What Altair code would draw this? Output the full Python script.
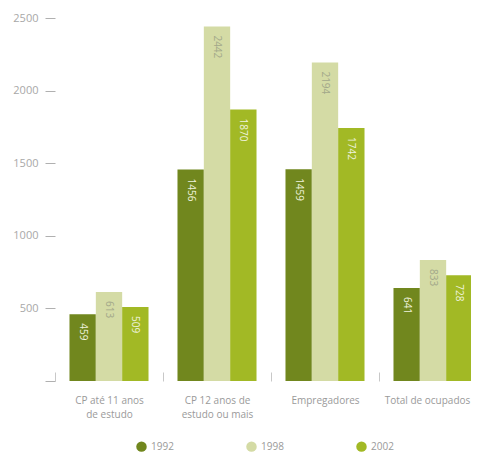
import altair as alt
import pandas as pd

categories = ["CP até 11 anos\nde estudo", "CP 12 anos de\nestudo ou mais", "Empregadores", "Total de ocupados"]
years = ["1992", "1998", "2002"]
v1992 = [459, 1456, 1459, 641]
v1998 = [613, 2442, 2194, 833]
v2002 = [509, 1870, 1742, 728]

colors = ["#71871e", "#d4dba5", "#a2b925"]
text_colors = {"1992": "#eef2dc", "1998": "#a3a88a", "2002": "#eef2dc"}

rows = []
for i, c in enumerate(categories):
    for y, vals in zip(years, [v1992, v1998, v2002]):
        rows.append({"cat": c, "year": y, "value": vals[i], "tcol": text_colors[y]})
df = pd.DataFrame(rows)

FONT = "Open Sans"

x_enc = alt.X(
    "cat:N", sort=categories, title=None,
    scale=alt.Scale(paddingInner=0, paddingOuter=0),
    axis=alt.Axis(labelAngle=0, domain=False, ticks=True, tickBand="extent",
                  tickSize=9, offset=-9, tickColor="#c8c8c8", tickWidth=1,
                  labelPadding=14, labelColor="#9a9a9a", labelFontSize=10,
                  labelFont=FONT, labelLineHeight=14,
                  labelOffset={"condition": {"test": "datum.value === 'Total de ocupados'", "value": -6}, "value": 0},
                  labelExpr="split(datum.label, '\\n')"),
)
xoff = alt.XOffset("year:N", sort=years, scale=alt.Scale(paddingInner=0, paddingOuter=0.55))
y_enc = alt.Y(
    "value:Q", title=None,
    scale=alt.Scale(domain=[0, 2500], nice=False),
    axis=alt.Axis(values=[0, 500, 1000, 1500, 2000, 2500], format="d",
                  labelExpr="datum.value == 0 ? '' : datum.label",
                  domain=False, grid=False, tickSize=10, tickColor="#b0b0b0",
                  labelPadding=7, labelColor="#a8a8a8", labelFontSize=11,
                  labelFont=FONT),
)

bars = alt.Chart(df).mark_bar().encode(
    x=x_enc, xOffset=xoff, y=y_enc,
    color=alt.Color("year:N", sort=years, scale=alt.Scale(domain=years, range=colors),
                    legend=alt.Legend(title=None, orient="none", direction="horizontal",
                                      legendX=81, legendY=423, symbolType="circle",
                                      symbolSize=110, columnPadding=72,
                                      labelColor="#9a9a9a", labelFontSize=10,
                                      labelFont=FONT, symbolStrokeWidth=0)),
)

labels = alt.Chart(df).mark_text(angle=90, align="left", baseline="middle", dx=9,
                                 fontSize=10, font=FONT).encode(
    x=alt.X("cat:N", sort=categories),
    xOffset=xoff,
    y="value:Q",
    text="value:Q",
    color=alt.Color("tcol:N", scale=None),
)

chart = alt.layer(bars, labels).properties(
    width=432, height=363,
    autosize=alt.AutoSizeParams(type="none"),
    padding={"left": 47, "top": 10, "right": -16, "bottom": 72},
).configure_view(stroke=None).resolve_scale(color="independent")

chart.save("out.html", embed_options={"renderer": "svg", "actions": False})
